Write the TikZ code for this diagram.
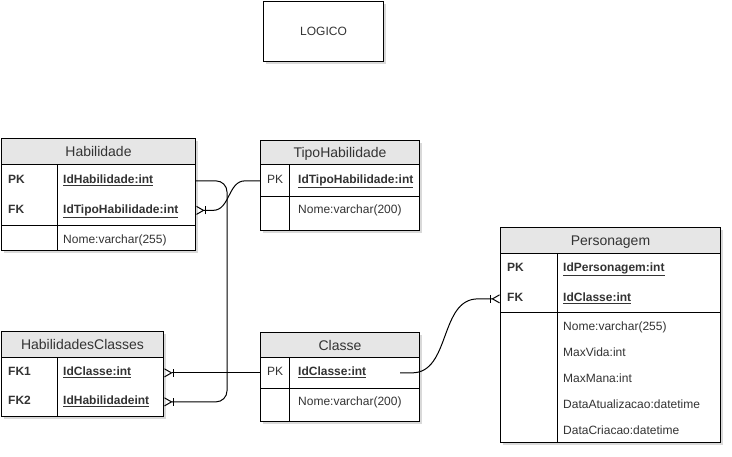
\documentclass[tikz,border=0pt]{standalone}
\usepackage{fontspec}
\setmainfont{Liberation Sans}
\usetikzlibrary{arrows.meta,shadows,calc}
\definecolor{hdrgray}{HTML}{E6E6E6}
\definecolor{txtgray}{HTML}{333333}

\begin{document}
\begin{tikzpicture}[x=1pt, y=-1pt,
        tbl/.style={draw, line width=1pt, fill=white, anchor=north west, inner sep=0pt,
            drop shadow={shadow xshift=2pt, shadow yshift=-2pt, opacity=0.25, fill=black!60}},
        hdr/.style={draw, line width=1pt, fill=hdrgray, anchor=north west, inner sep=0pt,
            text=txtgray, text height=10pt, text depth=0pt, font=\fontsize{14}{16}\selectfont},
        cell/.style={anchor=base west, inner sep=0pt, text=txtgray, font=\fontsize{12}{14}\selectfont},
        key/.style={cell, font=\fontsize{12}{14}\selectfont\bfseries},
        rowline/.style={line width=1pt},
        rel/.style={line width=1pt, -{Bar[width=8pt]Straight Barb[reversed,length=7pt,width=8pt]}}]
                \useasboundingbox (0,0) rectangle (732,456);
                % titulo
                \node[tbl, minimum width=120, minimum height=60, text=txtgray,
                    font=\fontsize{12}{14}\selectfont] (logico) at (263,1) {LOGICO};
                % Habilidade
                \node[tbl, minimum width=194, minimum height=112] (hab) at (1,138) {};
                \node[hdr, minimum width=194, minimum height=26] (habH) at (hab.north west) {Habilidade};
                \draw[rowline] (1,225) -- (195,225);
                \draw[rowline] (57,164) -- (57,250);
                \node[key] (habPK) at (8,183.5) {PK};
                \node[key] (habId) at (63,183.5) {\underline{IdHabilidade:int}};
                \node[key] (habFK) at (8,213) {FK};
                \node[key] (habTipo) at (63,213) {\underline{IdTipoHabilidade:int}};
                \node[cell] (habNome) at (63,243.5) {Nome:varchar(255)};
                % TipoHabilidade
                \node[tbl, minimum width=159, minimum height=90] (tipo) at (260,140) {};
                \node[hdr, minimum width=159, minimum height=24] (tipoH) at (tipo.north west) {TipoHabilidade};
                \draw[rowline] (260,196) -- (419,196);
                \draw[rowline] (289,164) -- (289,230);
                \node[cell] (tipoPK) at (267,183.5) {PK};
                \node[key] (tipoId) at (298,183.5) {\underline{IdTipoHabilidade:int}};
                \node[cell] (tipoNome) at (298,213.5) {Nome:varchar(200)};
                % HabilidadesClasses
                \node[tbl, minimum width=162, minimum height=85] (hc) at (1,331) {};
                \node[hdr, minimum width=162, minimum height=26] (hcH) at (hc.north west) {HabilidadesClasses};
                \draw[rowline] (57,357) -- (57,416);
                \node[key] (hcFK1) at (8,375.5) {FK1};
                \node[key] (hcCls) at (63,375.5) {\underline{IdClasse:int}};
                \node[key] (hcFK2) at (8,404.5) {FK2};
                \node[key] (hcHab) at (63,404.5) {\underline{IdHabilidadeint}};
                % Classe
                \node[tbl, minimum width=159, minimum height=89] (cls) at (260,332) {};
                \node[hdr, minimum width=159, minimum height=25] (clsH) at (cls.north west) {Classe};
                \draw[rowline] (260,388) -- (419,388);
                \draw[rowline] (289,357) -- (289,421);
                \node[cell] (clsPK) at (267,375.5) {PK};
                \node[key] (clsId) at (298,375.5) {\underline{IdClasse:int}};
                \node[cell] (clsNome) at (298,405) {Nome:varchar(200)};
                % Personagem
                \node[tbl, minimum width=220, minimum height=215] (pers) at (500,227) {};
                \node[hdr, minimum width=220, minimum height=26] (persH) at (pers.north west) {Personagem};
                \draw[rowline] (500,312) -- (720,312);
                \draw[rowline] (557,253) -- (557,442);
                \node[key] (persPK) at (507,271.5) {PK};
                \node[key] (persId) at (563,271.5) {\underline{IdPersonagem:int}};
                \node[key] (persFK) at (507,301.5) {FK};
                \node[key] (persCls) at (563,301.5) {\underline{IdClasse:int}};
                \node[cell] (persNome) at (563,330.5) {Nome:varchar(255)};
                \node[cell] (persVida) at (563,356.5) {MaxVida:int};
                \node[cell] (persMana) at (563,382.5) {MaxMana:int};
                \node[cell] (persAtu) at (563,408.5) {DataAtualizacao:datetime};
                \node[cell] (persCri) at (563,434.5) {DataCriacao:datetime};
                % relacoes
                \coordinate (clsOut) at (clsId.mid -| 400,0);
                \draw[rel, rounded corners=11pt] (hab.east |- habId.mid) -| (227,300) |- (hc.east |- hcHab.mid);
                \draw[rel] (tipo.west |- tipoId.mid) -- ($(tipo.west |- tipoId.mid)+(-15,0)$)
                    to[out=180, in=0] ($(hab.east |- habTipo.mid)+(17,0)$) -- (hab.east |- habTipo.mid);
                \draw[rel] (cls.west |- clsId.mid) -- (hc.east |- hcCls.mid);
                \draw[rel] (clsOut) -- ++(12,0)
                    to[out=0, in=180] ($(pers.west |- persCls.mid)+(-22,0)$) -- (pers.west |- persCls.mid);
            \end{tikzpicture}
\end{document}
